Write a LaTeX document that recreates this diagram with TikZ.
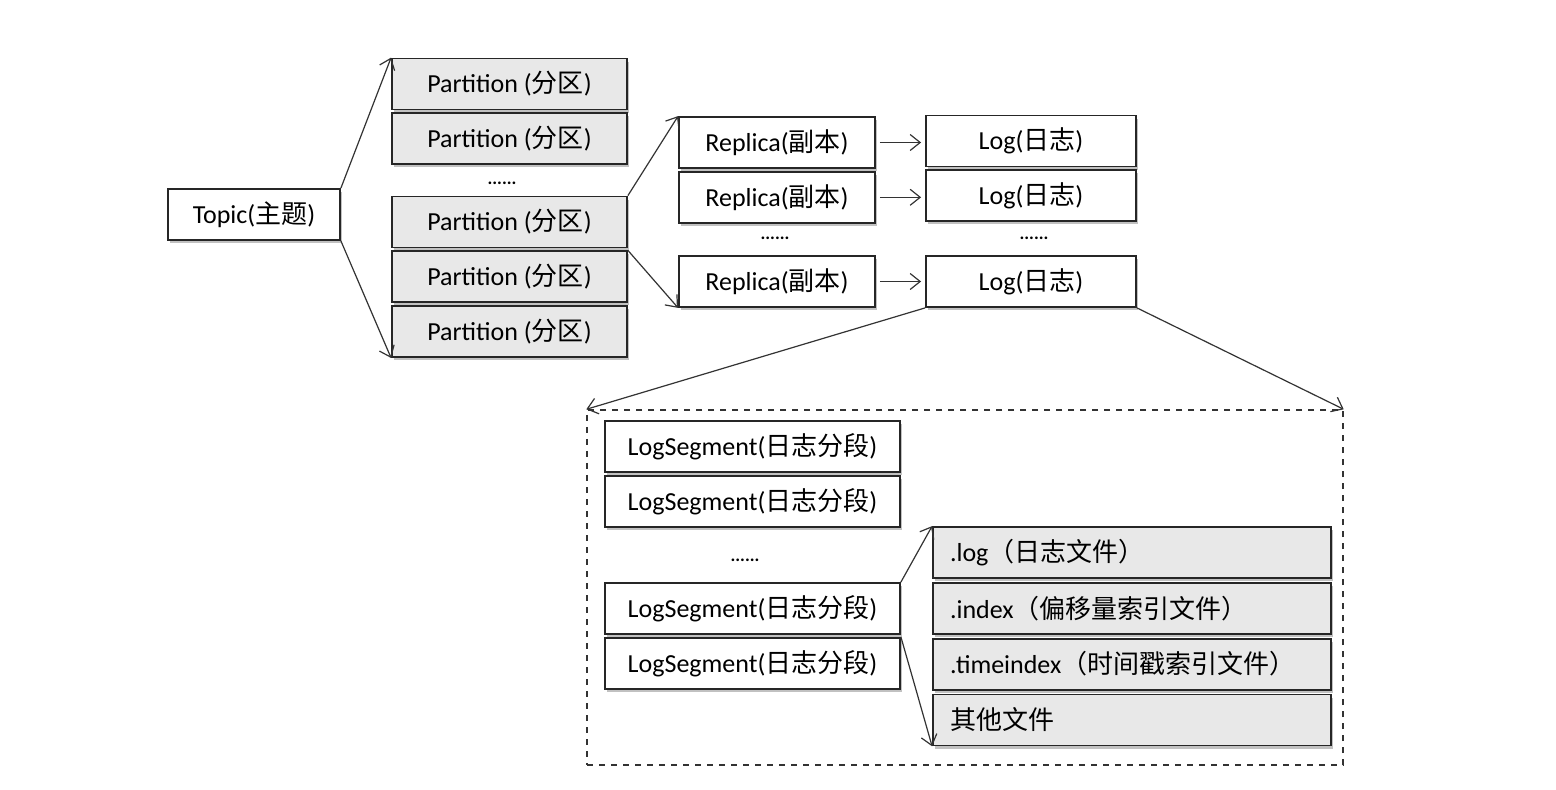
\documentclass[tikz,border=0pt]{standalone}
\usepackage{fontspec}
\setmainfont{Carlito}
\newfontfamily\cjk{Noto Sans CJK SC}
\usetikzlibrary{arrows.meta,positioning,shadows}
\tikzset{
    >={Straight Barb[length=5pt,width=8pt]},
    kasse/.style={
           rectangle,
           draw=black!85, line width=0.9pt,
           fill=white,
           minimum height=25.5pt,
           inner sep=0pt,
           font=\fontsize{13}{15}\selectfont,
           drop shadow={shadow xshift=0.8pt, shadow yshift=-1.6pt, fill=black!40, opacity=0.6}},
    gkasse/.style={
           kasse,
           fill=black!9},
    filkasse/.style={
           gkasse,
           minimum width=199pt,
           text width=182pt,
           align=left},
    prikker/.style={
           font=\fontsize{9}{9}\selectfont\bfseries},
    pil/.style={
           ->,
           line width=0.6pt,
           draw=black!80}
}

\begin{document}
\begin{tikzpicture}[x=0.5pt, y=-0.5pt, node distance=1pt]
        \useasboundingbox[fill=white] (0,0) rectangle (1556,790);

        % topic and partitions
        \node[kasse, minimum width=86pt] (topic) at (254,214.5) {Topic({\cjk 主题})};
        \node[gkasse, minimum width=117.5pt] (p1) at (509.5,84) {Partition ({\cjk 分区})};
        \node[gkasse, minimum width=117.5pt, below=of p1] (p2) {Partition ({\cjk 分区})};
        \node[prikker] (pdots) at (502,183) {......};
        \node[gkasse, minimum width=117.5pt] (p3) at (509.5,222) {Partition ({\cjk 分区})};
        \node[gkasse, minimum width=117.5pt, below=of p3] (p4) {Partition ({\cjk 分区})};
        \node[gkasse, minimum width=117.5pt, below=of p4] (p5) {Partition ({\cjk 分区})};

        % replicas and logs
        \node[kasse, minimum width=98pt] (r1) at (777,142.5) {Replica({\cjk 副本})};
        \node[kasse, minimum width=98pt, below=of r1] (r2) {Replica({\cjk 副本})};
        \node[prikker] (rdots) at (775,238) {......};
        \node[kasse, minimum width=98pt] (r3) at (777,281.5) {Replica({\cjk 副本})};
        \node[kasse, minimum width=105pt] (l1) at (1031,141) {Log({\cjk 日志})};
        \node[kasse, minimum width=105pt, below=of l1] (l2) {Log({\cjk 日志})};
        \node[prikker] (ldots) at (1034,238) {......};
        \node[kasse, minimum width=105pt] (l3) at (1031,281.5) {Log({\cjk 日志})};

        % log directory
        \node[draw=black!80, dashed, line width=0.7pt, minimum width=378pt, minimum height=177.5pt] (logdir) at (965,587.5) {};
        \node[kasse, minimum width=147.5pt] (s1) at (752.5,446.5) {LogSegment({\cjk 日志分段})};
        \node[kasse, minimum width=147.5pt, below=of s1] (s2) {LogSegment({\cjk 日志分段})};
        \node[prikker] (sdots) at (745,560) {......};
        \node[kasse, minimum width=147.5pt] (s3) at (752.5,608.5) {LogSegment({\cjk 日志分段})};
        \node[kasse, minimum width=147.5pt, below=of s3] (s4) {LogSegment({\cjk 日志分段})};

        \node[filkasse] (f1) at (1132,552.5) {.log{\cjk （日志文件）}};
        \node[filkasse, below=1.5pt of f1] (f2) {.index{\cjk （偏移量索引文件）}};
        \node[filkasse, below=1.5pt of f2] (f3) {.timeindex{\cjk （时间戳索引文件）}};
        \node[filkasse, below=1.5pt of f3] (f4) {{\cjk 其他文件}};

        \draw[pil] (topic.north east) -- (p1.north west);
        \draw[pil] (topic.south east) -- (p5.south west);
        \draw[pil] (p3.north east) -- (r1.north west);
        \draw[pil] (p4.north east) -- (r3.south west);
        \foreach \i in {1,2,3}
            \draw[pil, shorten <=2pt, shorten >=2pt] (r\i.east) -- (r\i.east -| l\i.west);
        \draw[pil] (l3.south west) -- (logdir.north west);
        \draw[pil] (l3.south east) -- (logdir.north east);
        \draw[pil] (s3.north east) -- (f1.north west);
        \draw[pil] (s4.north east) -- (f4.south west);
    \end{tikzpicture}
\end{document}
